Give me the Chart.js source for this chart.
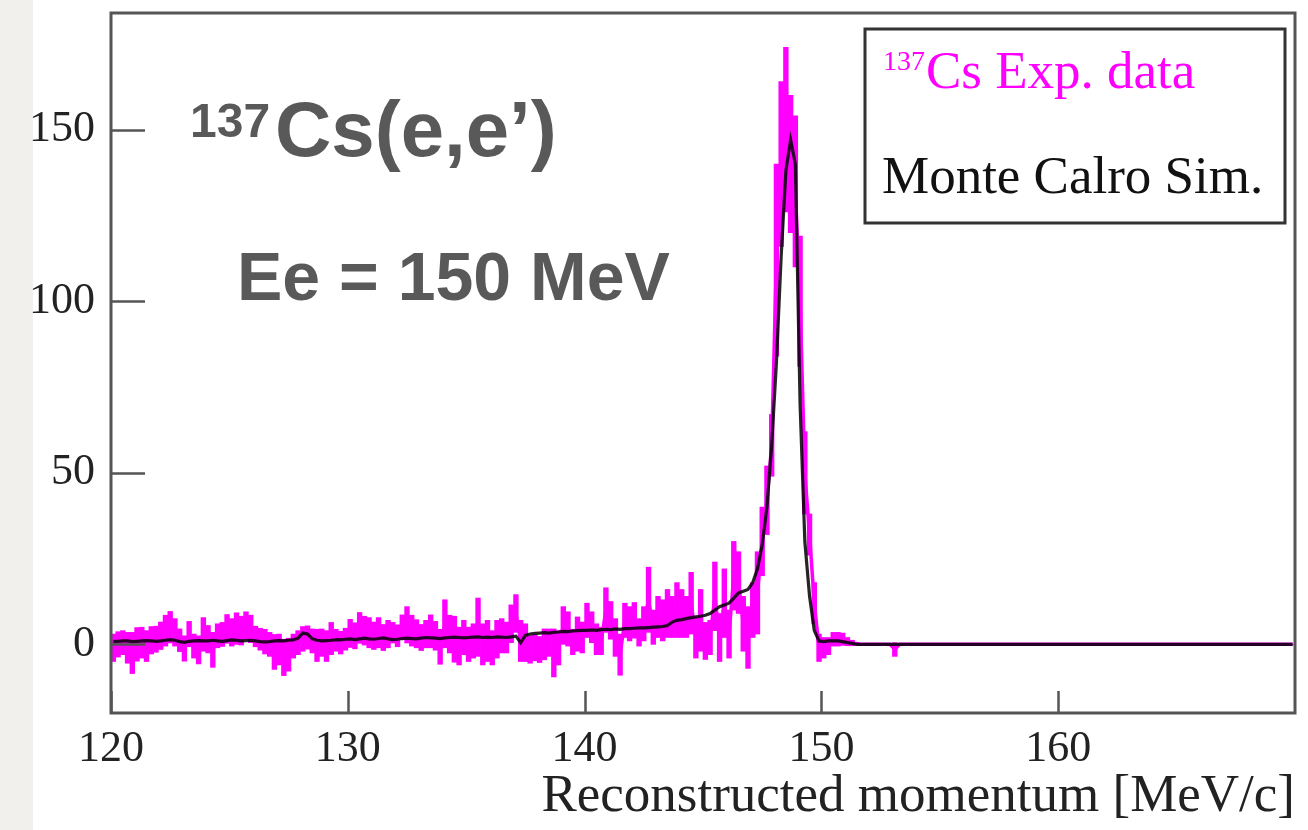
<!DOCTYPE html>
<html><head><meta charset="utf-8">
<script src="https://cdn.jsdelivr.net/npm/chart.js@4.4.1/dist/chart.umd.min.js"></script>
<style>html,body{margin:0;padding:0;background:#fff;} canvas{display:block;}</style>
</head><body>
<canvas id="c" width="1308" height="830"></canvas>
<script>
// Histogram binning (MeV/c)
const binStart = 120, binWidth = 0.2;

// 137Cs experimental data: bin contents
const dataVal = [
 -1, 0, 0.5, -1, -2.5, 0, 0.5, -0.5, 1.2, 1.5,
 2.5, 4, 5, 3.5, 1.2, -1.2, 3, -0.5, -1.6, 2.9,
 1.5, -1.6, 2.5, 2.9, 4.5, 3.5, 4.6, 4, 5.5, 4.5,
 2.3, 1.5, 0.8, 0, -2.2, -1.5, -3.8, -3, -0.5, 0.5,
 1.6, 2, 1, -0.3, 0.5, -0.5, 1.7, 1.2, 0.5, 1.5,
 3.2, 2.5, 4.8, 4, 3.4, 2.5, 3.4, 2, 3, 3.4,
 2.5, 5, 5.7, 4, 3.1, 2, 3, 3.8, 2.5, -0.7,
 6, 3, 1.5, -0.5, 2, 0, 1, 5, 0, 1,
 -1, 1.5, 2.5, 2, 6, 9, 1, 0.5, -1.5, -1,
 -1.5, 0, 0.5, -2.5, -1, 5.5, 4.5, 0.7, 3, 2,
 7, 5, 1.5, 1, 10, 7, 2, -3, 7, 6,
 7, 3.5, 6, 13, 5, 8, 7, 9, 8, 10,
 9, 8, 12, 2, 7, 1, 2, 14, 2, 12,
 3, 20, 18, 6, 2, 10, 15, 30, 42, 58,
 112, 140, 150, 140, 132, 100, 50, 32, 12, -1,
 -1, -0.5, 1.5, 1.5, 1.5, 0.8, 0.4, 0.2, 0, 0,
 0, 0, 0, 0, 0, -1.5, 0, 0, 0, 0,
 0, 0, 0, 0, 0, 0, 0, 0, 0, 0,
 0, 0, 0, 0, 0, 0, 0, 0, 0, 0,
 0, 0, 0, 0, 0, 0, 0, 0, 0, 0,
 0, 0, 0, 0, 0, 0, 0, 0, 0, 0,
 0, 0, 0, 0, 0, 0, 0, 0, 0, 0,
 0, 0, 0, 0, 0, 0, 0, 0, 0, 0,
 0, 0, 0, 0, 0, 0, 0, 0, 0, 0,
 0, 0, 0, 0, 0, 0, 0, 0, 0, 0
];

// 137Cs experimental data: statistical errors
const dataErr = [
 4, 3.7, 3.5, 4.5, 6, 4.9, 4.5, 4.5, 4, 3.8,
 4, 4.5, 4.6, 4, 3.3, 3.7, 3.7, 3.5, 4.1, 4.9,
 4, 5.1, 3.5, 3.5, 4.2, 4, 4.6, 4.2, 4, 4,
 3, 3.2, 3.6, 3.5, 5.1, 4.5, 5.3, 4.8, 3.5, 3.5,
 3.6, 3.4, 3.5, 4.7, 4, 4.5, 4.7, 3.2, 3.3, 3.2,
 4.1, 3.8, 4.5, 4.2, 4.4, 4, 4.4, 3.8, 4, 3,
 3.2, 3.6, 5.3, 4.5, 4.1, 3.8, 4, 4.8, 4.2, 5.1,
 7, 5.5, 6.7, 5.5, 5, 5, 5, 8.5, 6, 6,
 5, 5.5, 5, 4.5, 5.5, 5.5, 6, 5.5, 4, 3.8,
 3.8, 4.5, 4, 7, 5, 5.5, 5, 3.7, 5, 4.5,
 5, 4.5, 4.5, 4, 6.5, 5.5, 5.5, 6, 5, 5,
 5.2, 4, 5, 9.5, 5, 6, 6, 7, 6, 8,
 7, 6, 9, 6, 9, 5.4, 5, 10, 7, 10,
 7, 10, 9, 8, 9, 8, 12, 10, 10, 9,
 28, 24, 24, 20, 22, 19, 12, 6, 6, 4,
 3, 2.5, 2, 2, 1.8, 1.2, 0.8, 0.4, 0, 0,
 0, 0, 0, 0, 0, 2, 0, 0, 0, 0,
 0, 0, 0, 0, 0, 0, 0, 0, 0, 0,
 0, 0, 0, 0, 0, 0, 0, 0, 0, 0,
 0, 0, 0, 0, 0, 0, 0, 0, 0, 0,
 0, 0, 0, 0, 0, 0, 0, 0, 0, 0,
 0, 0, 0, 0, 0, 0, 0, 0, 0, 0,
 0, 0, 0, 0, 0, 0, 0, 0, 0, 0,
 0, 0, 0, 0, 0, 0, 0, 0, 0, 0,
 0, 0, 0, 0, 0, 0, 0, 0, 0, 0
];

// Monte Carlo simulation
const mcVal = [
 0.8, 0.9, 1, 1, 0.8, 0.9, 1, 1.1, 1, 0.9,
 1, 1.2, 1.4, 1.2, 0.8, 0.6, 0.9, 1, 1.1, 1,
 1, 1.2, 1, 0.9, 1.1, 1.3, 1.2, 1, 1.1, 1.2,
 1, 0.8, 0.7, 0.8, 1, 1.1, 1, 1.2, 1.3, 1.8,
 3.3, 3, 1.6, 1.2, 1, 1.1, 1.2, 1.4, 1.3, 1.5,
 1.6, 1.4, 1.6, 1.8, 1.6, 1.5, 1.7, 1.9, 1.6, 1.4,
 1.5, 1.7, 1.8, 1.7, 1.6, 1.8, 2, 1.9, 1.8, 1.7,
 1.9, 2, 2.1, 2, 1.9, 2, 2.1, 2.2, 2, 2.1,
 2, 2.2, 2.1, 2, 2.2, 2.4, 0.5, 2.6, 3, 3.2,
 3.3, 3.4, 3.3, 3.5, 3.6, 3.8, 3.7, 3.9, 4, 4.1,
 4.1, 4.2, 4.1, 4.3, 4.4, 4.3, 4.5, 4.4, 4.6, 4.6,
 4.7, 4.8, 4.8, 4.9, 5, 5.1, 5.2, 5.5, 6.5, 7,
 7.2, 7.5, 7.8, 8, 8.2, 8.5, 9, 10, 11, 11.5,
 12, 13.5, 15, 15.5, 16, 18, 22, 29, 40, 58,
 82, 113, 138, 147, 140, 70, 30, 14, 4, 1,
 0.8, 1, 1, 1, 0.8, 0.5, 0.3, 0, 0, 0,
 0, 0, 0, 0, 0, 0, 0, 0, 0, 0,
 0, 0, 0, 0, 0, 0, 0, 0, 0, 0,
 0, 0, 0, 0, 0, 0, 0, 0, 0, 0,
 0, 0, 0, 0, 0, 0, 0, 0, 0, 0,
 0, 0, 0, 0, 0, 0, 0, 0, 0, 0,
 0, 0, 0, 0, 0, 0, 0, 0, 0, 0,
 0, 0, 0, 0, 0, 0, 0, 0, 0, 0,
 0, 0, 0, 0, 0, 0, 0, 0, 0, 0,
 0, 0, 0, 0, 0, 0, 0, 0, 0, 0
];

const xTicks = [120, 130, 140, 150, 160];
const yTicks = [0, 50, 100, 150];
const xTitle = 'Reconstructed momentum [MeV/c]';
const legendExp = { sup: '137', text: 'Cs Exp. data', color: '#ff00ff' };
const legendMC = { text: 'Monte Calro Sim.', color: '#111111' };
const annoReaction = { sup: '137', text: 'Cs(e,e\u2019)' };
const annoEnergy = 'Ee = 150 MeV';

const centers = dataVal.map((_, i) => +(binStart + binWidth * (i + 0.5)).toFixed(2));
const errBars = dataVal.map((v, i) => ({ x: centers[i], y: [v - dataErr[i], v + dataErr[i]] }));
const dataLine = dataVal.map((v, i) => ({ x: centers[i], y: v }));
const mcLine = mcVal.map((v, i) => ({ x: centers[i], y: v }));

const SERIF = '"Liberation Serif", "Times New Roman", serif';
const SANS = '"Liberation Sans", Arial, sans-serif';
const FRAME = '#555555';

const decor = {
  id: 'decor',
  beforeDraw(chart) {
    const ctx = chart.ctx;
    ctx.save();
    ctx.fillStyle = '#f1f0ec';
    ctx.fillRect(0, 0, 33, chart.height);
    ctx.restore();
  },
  afterDatasetsDraw(chart) {
    const { ctx, chartArea: ca, scales } = chart;
    ctx.save();
    ctx.strokeStyle = FRAME;
    ctx.lineWidth = 3;
    ctx.strokeRect(ca.left, ca.top, ca.right - ca.left, ca.bottom - ca.top);
    ctx.beginPath();
    yTicks.forEach(v => {
      const y = Math.round(scales.y.getPixelForValue(v)) + 0.5;
      ctx.moveTo(ca.left, y); ctx.lineTo(ca.left + 34, y);
    });
    xTicks.forEach(v => {
      const x = Math.round(scales.x.getPixelForValue(v)) + 0.5;
      ctx.moveTo(x, ca.bottom); ctx.lineTo(x, ca.bottom - 22);
    });
    ctx.lineWidth = 2.5;
    ctx.stroke();
    ctx.restore();
  },
  afterDraw(chart) {
    const ctx = chart.ctx;
    ctx.save();
    // legend box
    ctx.fillStyle = '#ffffff';
    ctx.fillRect(865, 29, 420, 194);
    ctx.strokeStyle = '#333333';
    ctx.lineWidth = 3;
    ctx.strokeRect(865, 29, 420, 194);
    ctx.textBaseline = 'alphabetic';
    ctx.textAlign = 'left';
    ctx.fillStyle = legendExp.color;
    ctx.font = '28px ' + SERIF;
    ctx.fillText(legendExp.sup, 883, 70);
    ctx.font = '53px ' + SERIF;
    ctx.fillText(legendExp.text, 926, 88);
    ctx.fillStyle = legendMC.color;
    ctx.fillText(legendMC.text, 882, 193);
    // annotations
    ctx.fillStyle = '#595959';
    ctx.font = 'bold 48px ' + SANS;
    ctx.fillText(annoReaction.sup, 190, 137);
    ctx.font = 'bold 78px ' + SANS;
    ctx.fillText(annoReaction.text, 275, 156);
    ctx.font = 'bold 68px ' + SANS;
    ctx.fillText(annoEnergy, 237, 300);
    ctx.restore();
  }
};

Chart.defaults.font.family = SERIF;
Chart.defaults.color = '#222222';

new Chart(document.getElementById('c'), {
  type: 'line',
  data: {
    datasets: [
      {
        type: 'line', label: 'Monte Calro Sim.', data: mcLine, order: 0,
        borderColor: 'rgba(0,0,0,0.85)', borderWidth: 3.2, pointRadius: 0, tension: 0, fill: false
      },
      {
        type: 'line', label: '137Cs Exp. data', data: dataLine, order: 1,
        borderColor: '#ff00ff', borderWidth: 3.5, pointRadius: 0, tension: 0, fill: false
      },
      {
        type: 'bar', label: 'errors', data: errBars, order: 2,
        backgroundColor: '#ff00ff', borderWidth: 0, barPercentage: 1, categoryPercentage: 1
      }
    ]
  },
  options: {
    responsive: false,
    animation: false,
    devicePixelRatio: 1,
    layout: { padding: { top: 13, right: 13, left: 0, bottom: 0 } },
    plugins: { legend: { display: false }, tooltip: { enabled: false } },
    scales: {
      x: {
        type: 'linear', min: 120, max: 170, offset: false,
        grid: { display: false, drawTicks: false },
        border: { display: false },
        afterBuildTicks: s => { s.ticks = xTicks.map(v => ({ value: v })); },
        afterFit: s => { s.height = 117; s.paddingLeft = 0; s.paddingRight = 0; },
        ticks: { autoSkip: false, maxRotation: 0, padding: 10, color: '#222', font: { size: 44 } },
        title: { display: true, text: xTitle, align: 'end', color: '#222', font: { size: 53 }, padding: { top: 0, bottom: 1 } }
      },
      y: {
        type: 'linear', min: -20, max: 184,
        grid: { display: false, drawTicks: false },
        border: { display: false },
        afterBuildTicks: s => { s.ticks = yTicks.map(v => ({ value: v })); },
        afterFit: s => { s.width = 111; s.paddingTop = 0; s.paddingBottom = 0; },
        ticks: { padding: 16, color: '#222', font: { size: 44 } }
      }
    }
  },
  plugins: [decor]
});
</script>
</body></html>
